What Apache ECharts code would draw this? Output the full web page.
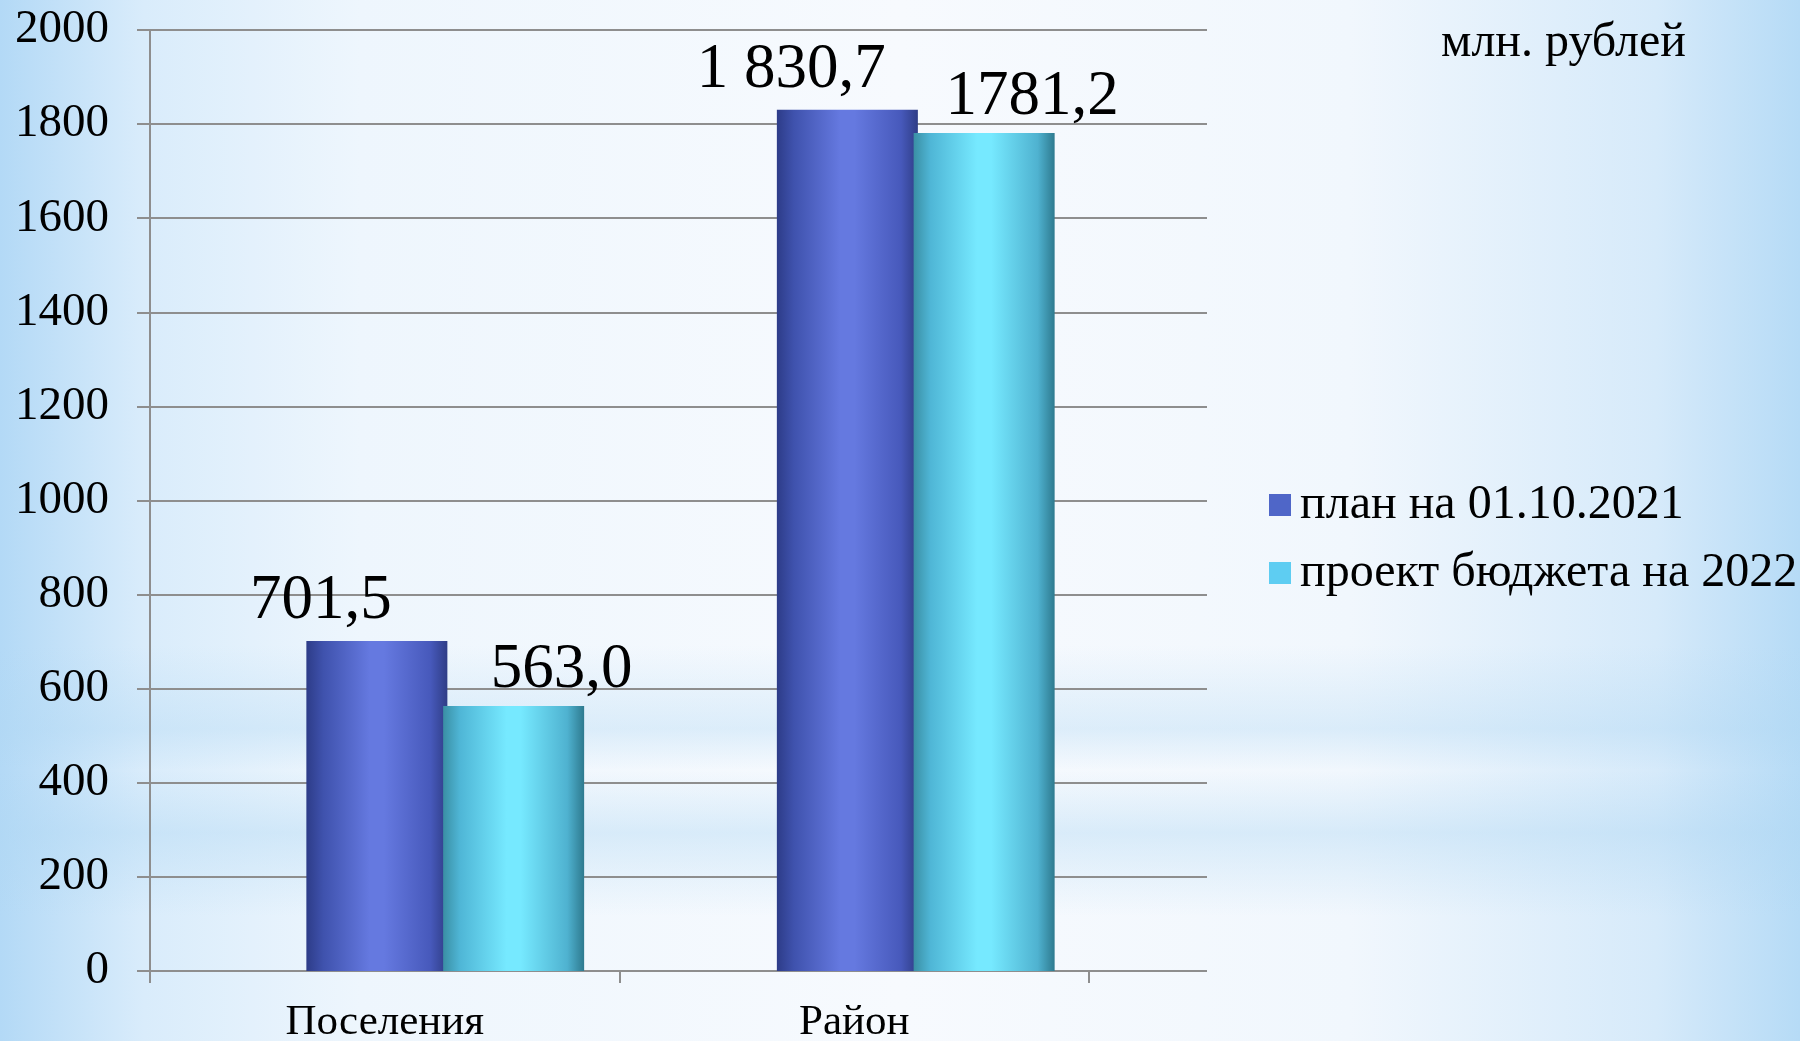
<!DOCTYPE html>
<html>
<head>
<meta charset="utf-8">
<script src="https://cdn.jsdelivr.net/npm/echarts@6/dist/echarts.min.js"></script>
<style>
  html, body {
    margin: 0;
    padding: 0;
  }
  body {
    width: 1800px;
    height: 1041px;
    overflow: hidden;
    background:
      linear-gradient(to bottom, rgba(255,255,255,0) 0%, rgba(255,255,255,0) 62%, rgba(175,215,243,0.35) 70%, rgba(255,255,255,0) 74%, rgba(175,215,243,0.4) 80%, rgba(255,255,255,0) 88%),
      linear-gradient(to right, #b3d9f6 0%, #d9ecfb 8%, #eef6fd 20%, #f7fafe 50%, #f1f7fd 75%, #d6eafa 92%, #b6dbf6 100%);
  }
  #chart {
    width: 1800px;
    height: 1041px;
  }
</style>
</head>
<body>
<div id="chart"></div>
<script>
var categories = ['Поселения', 'Район'];
var seriesNames = ['план на 01.10.2021', 'проект бюджета на 2022'];
var planValues = [701.5, 1830.7];
var projectValues = [563.0, 1781.2];
var planLabels = ['701,5', '1 830,7'];
var projectLabels = ['563,0', '1781,2'];
var yTicks = [0, 200, 400, 600, 800, 1000, 1200, 1400, 1600, 1800, 2000];

var font = "'Liberation Serif', 'Times New Roman', serif";
var gridColor = '#8e8e8e';

var chart = echarts.init(document.getElementById('chart'));

// цилиндрическая заливка столбцов
function barFill(stops) {
  return new echarts.graphic.LinearGradient(0, 0, 1, 0, stops.map(function (c) {
    return { offset: c[0], color: c[1] };
  }));
}

chart.setOption({
  backgroundColor: 'transparent',
  animation: false,
  textStyle: { fontFamily: font },
  title: {
    text: 'млн. рублей',
    left: 1436,
    top: 14,
    textStyle: { fontFamily: font, fontSize: 48, fontWeight: 'normal', color: '#000' }
  },
  legend: {
    orient: 'vertical',
    left: 1264,
    top: 476,
    itemWidth: 22,
    itemHeight: 22,
    itemGap: 20,
    icon: 'rect',
    textStyle: { fontFamily: font, fontSize: 48, lineHeight: 48, color: '#000', padding: [0, 0, 0, 4] },
    data: [
      { name: seriesNames[0], itemStyle: { color: '#4f66c8' } },
      { name: seriesNames[1], itemStyle: { color: '#5ecdf2' } }
    ]
  },
  grid: [
    { left: 150, top: 30, width: 939, height: 941, outerBoundsMode: 'none' },   // оси и подписи
    { left: 150, top: 30, width: 1057, height: 941, outerBoundsMode: 'none' },  // линии сетки
    { left: 210, top: 30, width: 941, height: 941, outerBoundsMode: 'none' }    // столбцы
  ],
  xAxis: [
    {
      gridIndex: 0,
      type: 'category',
      data: categories,
      axisLine: { show: true, lineStyle: { color: gridColor, width: 2 } },
      axisTick: { show: true, length: 12, lineStyle: { color: gridColor, width: 2 } },
      axisLabel: { fontFamily: font, fontSize: 43, color: '#000', margin: 30 }
    },
    { gridIndex: 1, type: 'category', data: categories, show: false },
    { gridIndex: 2, type: 'category', data: categories, show: false }
  ],
  yAxis: [
    {
      gridIndex: 0,
      type: 'value',
      min: yTicks[0],
      max: yTicks[yTicks.length - 1],
      interval: 200,
      axisLine: { show: true, lineStyle: { color: gridColor, width: 2 } },
      axisTick: { show: true, length: 13, lineStyle: { color: gridColor, width: 2 } },
      splitLine: { show: false },
      axisLabel: {
        fontFamily: font,
        fontSize: 47,
        color: '#000',
        margin: 41,
        formatter: function (v) { return String(v); }
      }
    },
    {
      gridIndex: 1,
      type: 'value',
      min: 0,
      max: 2000,
      interval: 200,
      axisLine: { show: false },
      axisTick: { show: false },
      axisLabel: { show: false },
      splitLine: { show: true, lineStyle: { color: gridColor, width: 2 } }
    },
    { gridIndex: 2, type: 'value', min: 0, max: 2000, show: false, splitLine: { show: false } }
  ],
  series: [
    {
      name: seriesNames[0],
      type: 'bar',
      xAxisIndex: 2,
      yAxisIndex: 2,
      barWidth: 141,
      barGap: '-3%',
      data: planValues,
      itemStyle: {
        color: barFill([[0, '#2d3c88'], [0.12, '#3f52ad'], [0.45, '#6579e0'], [0.55, '#6579e0'], [0.88, '#4759bb'], [1, '#2f3d86']])
      },
      label: {
        show: true,
        position: 'top',
        distance: 8,
        offset: [-56, 0],
        fontFamily: font,
        fontSize: 63,
        color: '#000',
        formatter: function (p) { return planLabels[p.dataIndex]; }
      },
      z: 3
    },
    {
      name: seriesNames[1],
      type: 'bar',
      xAxisIndex: 2,
      yAxisIndex: 2,
      barWidth: 141,
      data: projectValues,
      itemStyle: {
        color: barFill([[0, '#3a8fa4'], [0.12, '#4fb6d6'], [0.45, '#76e9ff'], [0.55, '#76e9ff'], [0.88, '#4fb2d0'], [1, '#2e7a8f']])
      },
      label: {
        show: true,
        position: 'top',
        distance: 4,
        offset: [48, 0],
        fontFamily: font,
        fontSize: 63,
        color: '#000',
        formatter: function (p) { return projectLabels[p.dataIndex]; }
      },
      z: 4
    }
  ]
});
</script>
</body>
</html>
